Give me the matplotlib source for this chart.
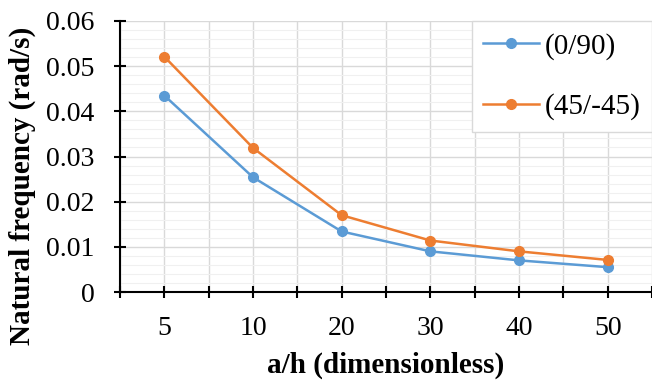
import numpy as np
import matplotlib.pyplot as plt
from matplotlib.ticker import MultipleLocator, FuncFormatter

ratios = ['5', '10', '20', '30', '40', '50']
freq_090 = [0.0435, 0.0254, 0.0134, 0.0090, 0.0070, 0.0055]
freq_4545 = [0.0521, 0.0319, 0.0170, 0.0114, 0.0090, 0.0071]

plt.rcParams['font.family'] = ['Liberation Serif', 'DejaVu Serif']

fig = plt.figure(figsize=(6.52, 3.82), dpi=100)
ax = fig.add_axes([120/652, 90/382, 532/652, 271/382])

x = np.arange(len(ratios))
ax.plot(x, freq_090, '-o', color='#5B9BD5', lw=1.8, ms=7, label='(0/90)', zorder=3)
ax.plot(x, freq_4545, '-o', color='#ED7D31', lw=1.8, ms=7, label='(45/-45)', zorder=3)

ax.set_xlim(-0.5, len(ratios) - 0.5)
ax.set_ylim(0, 0.06)
ax.set_xticks(x)
ax.set_xticklabels(ratios)
ax.set_xticks(np.arange(-0.5, len(ratios)), minor=True)
ax.yaxis.set_major_locator(MultipleLocator(0.01))
ax.yaxis.set_minor_locator(MultipleLocator(0.002))
ax.yaxis.set_major_formatter(FuncFormatter(lambda v, p: '0' if v == 0 else f'{v:.2f}'))

ax.grid(which='major', color='#d9d9d9', lw=1.0)
ax.grid(which='minor', axis='y', color='#f0f0f0', lw=0.8)
ax.grid(which='minor', axis='x', color='#d9d9d9', lw=1.0)
ax.set_axisbelow(True)

for s in ['top', 'right']:
    ax.spines[s].set_visible(False)
for s in ['left', 'bottom']:
    ax.spines[s].set_linewidth(1.5)

ax.tick_params(axis='x', which='both', direction='inout', length=9, width=1.5, labelsize=20, pad=13)
ax.tick_params(axis='y', which='major', direction='inout', length=9, width=1.5, labelsize=20, pad=14)
ax.tick_params(axis='y', which='minor', length=0)

ax.set_xlabel('a/h (dimensionless)', fontsize=21, fontweight='bold', va='center')
ax.set_ylabel('Natural frequency (rad/s)', fontsize=21, fontweight='bold', va='center')
ax.xaxis.set_label_coords(0.5, -0.272)
ax.yaxis.set_label_coords(-0.184, 0.393)

leg = ax.legend(loc='upper right', fontsize=21, frameon=True, fancybox=False,
                edgecolor='#d9d9d9', framealpha=1, borderpad=0.4, labelspacing=1.15,
                handlelength=1.9, handletextpad=0.2, borderaxespad=0.0)
leg.get_frame().set_linewidth(1.0)

fig.savefig('out.png', dpi=100)
